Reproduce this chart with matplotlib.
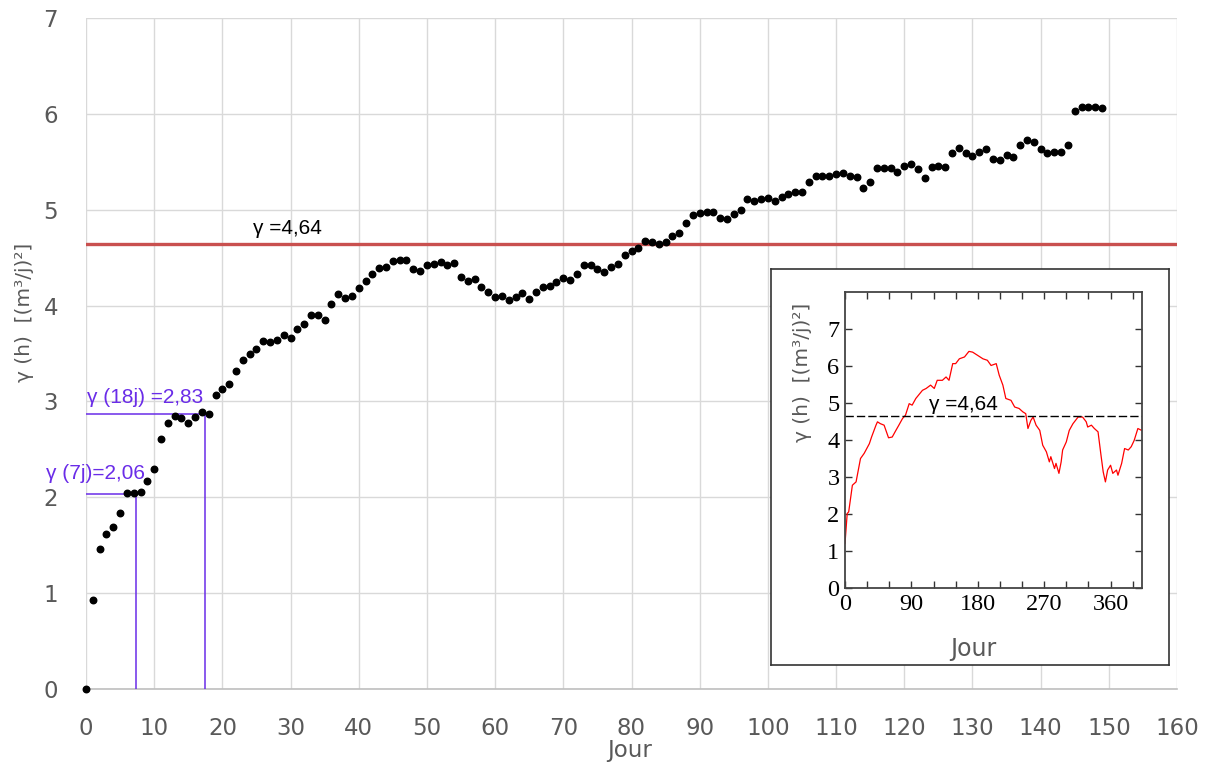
import numpy as np
import matplotlib.pyplot as plt
from matplotlib.ticker import MultipleLocator

# main variogram: one point per day (0..149)
days = np.arange(150)
gamma = [
    0.00, 0.93, 1.46, 1.62, 1.69, 1.84, 2.04, 2.04, 2.06, 2.17,
    2.30, 2.61, 2.77, 2.85, 2.83, 2.78, 2.84, 2.89, 2.87, 3.07,
    3.13, 3.18, 3.32, 3.43, 3.49, 3.55, 3.63, 3.62, 3.64, 3.69,
    3.66, 3.76, 3.81, 3.90, 3.90, 3.85, 4.02, 4.12, 4.08, 4.10,
    4.18, 4.26, 4.33, 4.39, 4.40, 4.46, 4.48, 4.48, 4.38, 4.36,
    4.42, 4.43, 4.45, 4.42, 4.44, 4.30, 4.26, 4.28, 4.19, 4.14,
    4.09, 4.10, 4.06, 4.09, 4.13, 4.07, 4.14, 4.19, 4.20, 4.25,
    4.29, 4.27, 4.33, 4.42, 4.42, 4.38, 4.35, 4.40, 4.43, 4.53,
    4.57, 4.60, 4.67, 4.66, 4.64, 4.66, 4.73, 4.76, 4.86, 4.95,
    4.97, 4.98, 4.98, 4.91, 4.90, 4.96, 5.00, 5.11, 5.09, 5.11,
    5.12, 5.09, 5.13, 5.16, 5.18, 5.18, 5.29, 5.35, 5.35, 5.35,
    5.37, 5.38, 5.35, 5.34, 5.23, 5.29, 5.44, 5.44, 5.43, 5.39,
    5.46, 5.48, 5.42, 5.33, 5.45, 5.46, 5.45, 5.59, 5.64, 5.59,
    5.56, 5.60, 5.63, 5.53, 5.52, 5.57, 5.55, 5.68, 5.73, 5.71,
    5.63, 5.59, 5.60, 5.60, 5.67, 6.03, 6.07, 6.07, 6.07, 6.06,
]

sill = 4.64

# lag annotations (days, gamma where lines are drawn, label text)
lag_days = [7.4, 17.5]
lag_gamma = [2.03, 2.87]
lag_labels = ["γ (7j)=2,06", "γ (18j) =2,83"]

# inset: variogram over the whole year
inset_days = [0, 3, 5, 10, 15, 21, 26, 33, 36, 42, 44, 48, 53, 59, 64, 69, 73, 78, 82,
              87, 91, 96, 105, 110, 116, 121, 125, 132, 137, 141, 146, 150, 155, 162,
              168, 173, 180, 187, 193, 198, 205, 209, 214, 218, 225, 230, 236, 241,
              245, 248, 252, 255, 259, 264, 268, 273, 277, 279, 284, 286, 290, 293,
              295, 300, 304, 309, 316, 322, 327, 329, 334, 338, 343, 347, 350, 353,
              356, 360, 363, 368, 370, 375, 379, 384, 388, 392, 397, 402]
inset_gamma = [1.21, 2.02, 2.06, 2.78, 2.87, 3.50, 3.64, 3.90, 4.08, 4.40, 4.49, 4.44,
               4.40, 4.06, 4.08, 4.26, 4.40, 4.58, 4.67, 4.98, 4.94, 5.12, 5.34, 5.39,
               5.48, 5.39, 5.61, 5.61, 5.70, 5.61, 6.06, 6.06, 6.19, 6.24, 6.39, 6.37,
               6.28, 6.19, 6.15, 6.01, 6.06, 5.75, 5.48, 5.12, 5.07, 4.89, 4.85, 4.76,
               4.71, 4.31, 4.53, 4.62, 4.40, 4.26, 3.86, 3.68, 3.41, 3.55, 3.23, 3.37,
               3.10, 3.41, 3.73, 3.95, 4.26, 4.44, 4.62, 4.62, 4.49, 4.35, 4.40, 4.31,
               4.22, 3.59, 3.14, 2.87, 3.19, 3.32, 3.10, 3.19, 3.05, 3.37, 3.77, 3.73,
               3.82, 3.99, 4.31, 4.26]

grey = "#595959"
purple = "#6a2ce8"
W, H = 1208, 763

fig = plt.figure(figsize=(W / 100, H / 100), dpi=100)
ax = fig.add_axes([86 / W, 1 - 689 / H, (1177 - 86) / W, (689 - 18) / H])

ax.set_xlim(0, 160)
ax.set_ylim(0, 7)
ax.xaxis.set_major_locator(MultipleLocator(10))
ax.yaxis.set_major_locator(MultipleLocator(1))
ax.grid(True, color="#d9d9d9", lw=1)
ax.set_axisbelow(True)
for s in ["top", "right", "left"]:
    ax.spines[s].set_visible(False)
ax.spines["bottom"].set_color("#bfbfbf")
ax.spines["bottom"].set_linewidth(1.2)
ax.tick_params(axis="x", length=0, pad=20, labelsize=16.5, labelcolor=grey)
ax.tick_params(axis="y", length=0, pad=20, labelsize=16.5, labelcolor=grey)
fig.text(630 / W, 1 - 751 / H, "Jour", ha="center", va="center", fontsize=16.5,
         color=grey)

ax.scatter(days, gamma, s=22, color="black", zorder=4, clip_on=False)

ax.axhline(sill, color="#c9504f", lw=2.4, zorder=3)
ax.text(29.5, sill + 0.06, "γ =4,64", ha="center", va="bottom", fontsize=15,
        family="Liberation Sans")

for d, g in zip(lag_days, lag_gamma):
    ax.plot([0, d], [g, g], color=purple, lw=1.1, zorder=3)
    ax.plot([d, d], [0, g], color=purple, lw=1.1, zorder=3)
ax.text(-5.9, 2.25, lag_labels[0], color=purple, fontsize=15, va="center",
        family="Liberation Sans", clip_on=False)
ax.text(0.1, 3.04, lag_labels[1], color=purple, fontsize=15, va="center",
        family="Liberation Sans")

fig.text(25 / W, 1 - 312 / H, "γ (h)  [(m³/j)²]", rotation=90, ha="center",
         va="center", fontsize=14.5, color=grey)

# inset box
box = fig.add_axes([771 / W, 1 - 665 / H, (1169 - 771) / W, (665 - 269) / H])
box.set_xticks([])
box.set_yticks([])
box.set_facecolor("white")
for s in box.spines.values():
    s.set_color("#333333")
    s.set_linewidth(1.2)

ax2 = fig.add_axes([845 / W, 1 - 588.3 / H, (1142.3 - 845) / W, (588.3 - 291.7) / H])
ax2.plot(inset_days, inset_gamma, color="red", lw=0.9)
ax2.axhline(sill, color="black", lw=1, ls=(0, (6, 2.2)))
ax2.text(114, sill + 0.06, "γ =4,64", ha="left", va="bottom", fontsize=15,
         family="Liberation Sans")
ax2.set_xlim(0, 403)
ax2.set_ylim(0, 8)
ax2.set_xticks([0, 90, 180, 270, 360])
ax2.xaxis.set_minor_locator(MultipleLocator(30))
ax2.set_yticks(range(8))
ax2.tick_params(which="both", direction="in", top=True, right=True, width=1,
                color="#333333", labelsize=17.5, pad=4)
ax2.tick_params(which="major", length=5)
ax2.tick_params(which="minor", length=5)
for lab in ax2.get_xticklabels() + ax2.get_yticklabels():
    lab.set_family("Liberation Serif")
for s in ax2.spines.values():
    s.set_color("#444444")
    s.set_linewidth(1.3)

fig.text(803 / W, 1 - 372 / H, "γ (h)  [(m³/j)²]", rotation=90, ha="center",
         va="center", fontsize=14.5, color=grey)
fig.text(973 / W, 1 - 649 / H, "Jour", ha="center", va="center", fontsize=17,
         color=grey)

fig.savefig("out.png", dpi=100)
